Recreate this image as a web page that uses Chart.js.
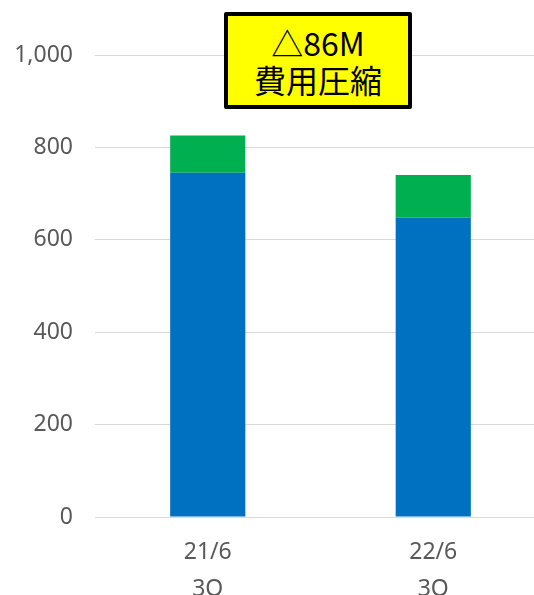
<!DOCTYPE html>
<html>
<head>
<meta charset="utf-8">
<script src="https://cdn.jsdelivr.net/npm/chart.js@4"></script>
<style>
    html, body { margin: 0; padding: 0; background: #fff; overflow: hidden; }
    .wrap { position: relative; width: 546px; height: 620px; }
    .note {
        position: absolute; left: 224px; top: 12px; width: 180px; height: 89px;
        background: #ffff00; border: 4px solid #000; border-radius: 2px;
        font-family: "Noto Sans CJK JP", "Noto Sans", sans-serif; font-size: 32px;
        line-height: 37px; text-align: center; color: #000;
        display: flex; flex-direction: column; justify-content: center;
    }
</style>
</head>
<body>
<div class="wrap">
    <canvas class="cost-graph"></canvas>
    <div class="note"><div>△86M</div><div>費用圧縮</div></div>
</div>
<script>
document.addEventListener('DOMContentLoaded', function () {

    const periods = [["21/6", "3Q"], ["22/6", "3Q"]];
    const baseCost = [745, 648];
    const otherCost = [81, 92];
    const yTicks = [0, 200, 400, 600, 800, 1000];

    const ctx = document.querySelector('.cost-graph');

    Chart.defaults.font.family = '"Noto Sans", sans-serif';
    Chart.defaults.font.size = 23;
    Chart.defaults.color = '#595959';

    new Chart(ctx, {
        type: 'bar',
        data: {
            labels: periods,
            datasets: [{
                label: 'base',
                data: baseCost,
                backgroundColor: '#0070C0',
                barPercentage: 1 / 3,
                categoryPercentage: 1
            }, {
                label: 'other',
                data: otherCost,
                backgroundColor: '#00B050',
                barPercentage: 1 / 3,
                categoryPercentage: 1
            }]
        },
        options: {
            responsive: true,
            maintainAspectRatio: false,
            animation: false,
            layout: { padding: { top: 55, left: 0, right: 0, bottom: 0 } },
            plugins: {
                legend: { display: false },
                tooltip: { enabled: false }
            },
            scales: {
                x: {
                    stacked: true,
                    grid: { display: false },
                    border: { display: false },
                    ticks: { padding: 9, font: { lineHeight: 1.6 } },
                    afterFit(scale) { scale.height = 103; }
                },
                y: {
                    stacked: true,
                    min: 0,
                    max: 1000,
                    afterBuildTicks(scale) { scale.ticks = yTicks.map(v => ({ value: v })); },
                    ticks: {
                        padding: 22,
                        callback: v => v.toLocaleString('en-US')
                    },
                    grid: { color: '#d9d9d9', drawTicks: false },
                    border: { display: false },
                    afterFit(scale) { scale.width = 95; }
                }
            }
        }
    });
})
</script>
</body>
</html>
